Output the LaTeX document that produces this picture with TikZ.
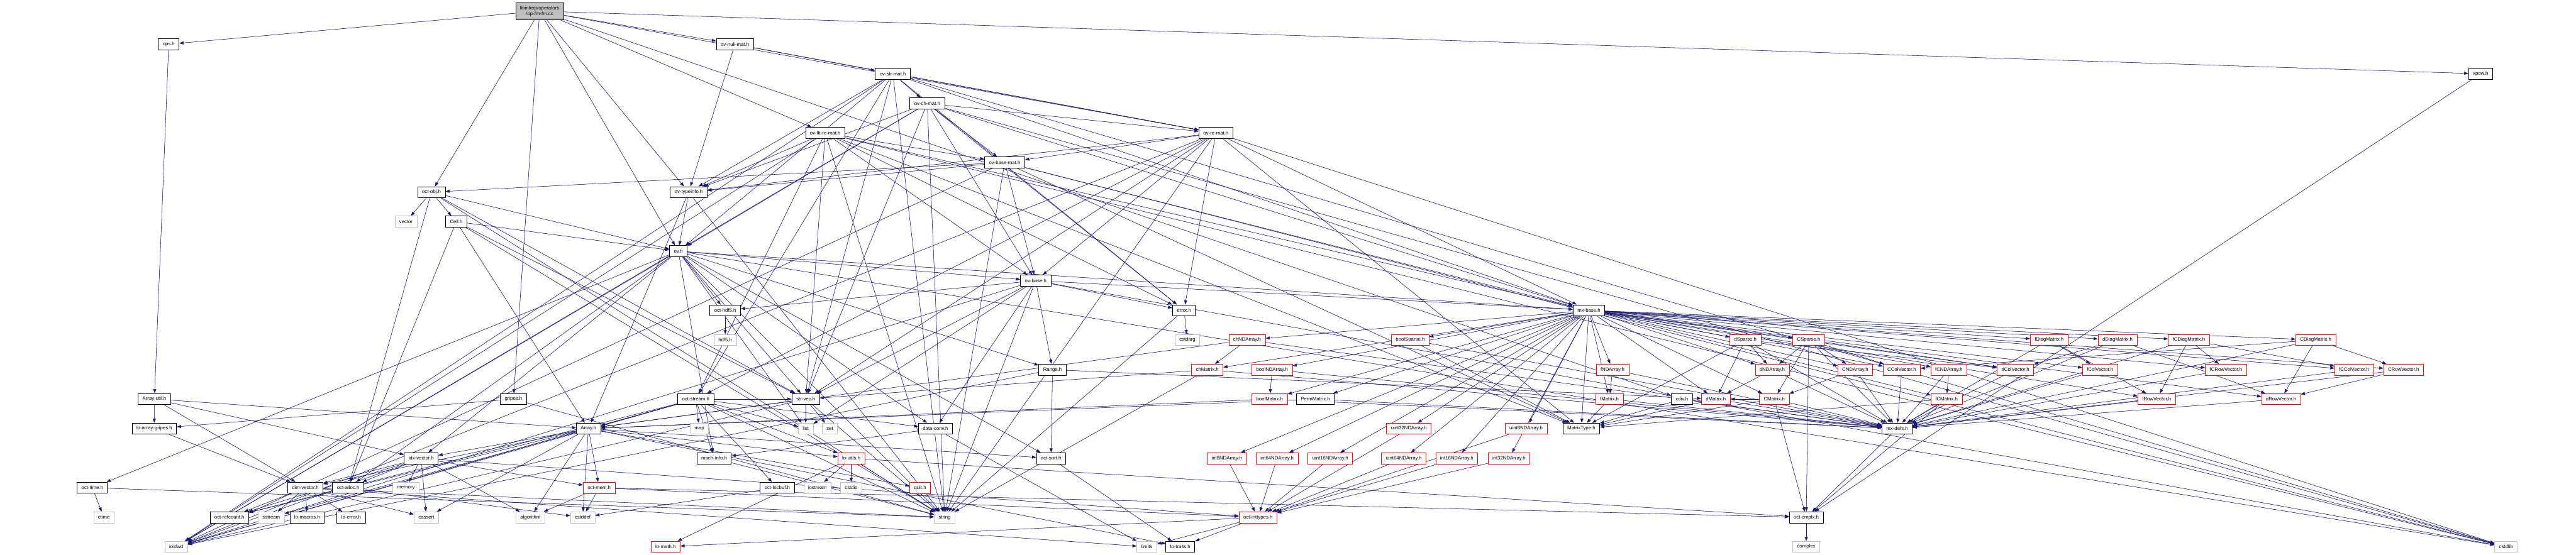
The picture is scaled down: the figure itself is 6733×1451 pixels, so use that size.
\documentclass[tikz,border=0pt]{standalone}
\usepackage{fontspec}
\setmainfont{Liberation Sans}
\usetikzlibrary{arrows.meta, backgrounds}
\definecolor{cedge}{HTML}{191970}
\definecolor{cgrey}{HTML}{BFBFBF}
\tikzset{
  every picture/.style={line width=1pt},
  hfile/.style={draw=#1, fill=white, line width=1.3pt, minimum height=29pt, inner xsep=11.5pt, inner ysep=0pt, font=\fontsize{12.8}{15}\selectfont},
  hfile/.default=black,
  trunc/.style={hfile=red, line width=1.1pt},
  sys/.style={hfile=cgrey, line width=1pt},
  dep/.style={-{Triangle[length=11pt, width=8pt]}, draw=cedge, fill=cedge, line width=0.9pt},
}

\begin{document}
\begin{tikzpicture}[x=1pt, y=-1pt]
  \useasboundingbox (0,0) rectangle (6733,1451);
  \node[hfile, fill=cgrey, align=center, minimum height=45pt] (opfmfm) at (1410.5,29) {libinterp/operators\\/op-fm-fm.cc};
  \foreach \n/\X/\Y/\t in {
     ops/441/115.6/ops.h, ovnullmat/1921/115.6/ov-null-mat.h, xpow/6483.5/193/xpow.h,
     ovstrmat/2333.6/193/ov-str-mat.h, ovchmat/2423.6/270.4/ov-ch-mat.h,
     ovfltremat/2157/348/ov-flt-re-mat.h, ovremat/3178/348/ov-re-mat.h,
     ovbasemat/2626/425/ov-base-mat.h, octobj/1127.6/502.6/oct-obj.h,
     ovtypeinfo/1800/502.6/ov-typeinfo.h, cell/1192.6/579.6/Cell.h, ov/1773/657/ov.h,
     ovbase/2707/734/ov-base.h, error/3094.6/811.6/error.h, octhdf/1895.5/811.6/oct-hdf5.h,
     mxbase/4153/811.6/mx-base.h, range/2751/966.8/Range.h, arrayutil/403.5/1043.7/Array-util.h,
     gripes/1342/1043.7/gripes.h, octstream/1818.5/1043.7/oct-stream.h, strvec/2106/1043.7/str-vec.h,
     permmatrix/3438/1043.7/PermMatrix.h, xdiv/4396/1043.7/xdiv.h,
     loarraygripes/403.3/1121/lo-array-gripes.h, array/1538/1121/Array.h,
     dataconv/2445/1121/data-conv.h, matrixtype/4133/1121/MatrixType.h, mxdefs/4958.6/1121/mx-defs.h,
     idxvector/1100.8/1198.6/idx-vector.h, machinfo/1866.5/1198.6/mach-info.h,
     octsort/2747/1198.6/oct-sort.h, octtime/241.3/1275.6/oct-time.h,
     dimvector/798/1275.6/dim-vector.h, octalloc/910/1275.6/oct-alloc.h,
     octlocbuf/2031.5/1275.6/oct-locbuf.h, octrefcount/599.6/1353/oct-refcount.h,
     lomacros/802.7/1353/lo-macros.h, loerror/918/1353/lo-error.h,
     octcmplx/4721/1353/oct-cmplx.h, lotraits/3085/1430/lo-traits.h}
    \node[hfile] (\n) at (\X,\Y) {\t};
  \foreach \n/\X/\Y/\t in {
     chndarray/3259.6/889/chNDArray.h, boolsparse/3686/889/boolSparse.h, dsparse/4562/889/dSparse.h,
     csparse/4727.6/889/CSparse.h, fdiagmatrix/5355.8/889/fDiagMatrix.h,
     ddiagmatrix/5534.7/889/dDiagMatrix.h, fcdiagmatrix/5721/889/fCDiagMatrix.h,
     cdiagmatrix/6052.8/889/CDiagMatrix.h, chmatrix/3155.6/966.8/chMatrix.h,
     boolndarray/3325/966.8/boolNDArray.h, fndarray/4214.7/966.8/fNDArray.h,
     dndarray/4632/966.8/dNDArray.h, cndarray/4849/966.8/CNDArray.h,
     ccolvector/4970.7/966.8/CColVector.h, fcndarray/5094/966.8/fCNDArray.h,
     dcolvector/5267.8/966.8/dColVector.h, fcolvector/5489/966.8/fColVector.h,
     fcrowvector/5818/966.8/fCRowVector.h, fccolvector/6152.8/966.8/fCColVector.h,
     crowvector/6282/966.8/CRowVector.h, boolmatrix/3318.5/1043.7/boolMatrix.h,
     fmatrix/4206.6/1043.7/fMatrix.h, dmatrix/4484.7/1043.7/dMatrix.h, cmatrix/4637.5/1043.7/CMatrix.h,
     fcmatrix/5087.7/1043.7/fCMatrix.h, frowvector/5637/1043.7/fRowVector.h,
     drowvector/5962/1043.7/dRowVector.h, uint32ndarray/3682.5/1121/uint32NDArray.h,
     uint8ndarray/3988.7/1121/uint8NDArray.h, loutils/2225/1198.6/lo-utils.h,
     int8ndarray/3206.5/1198.6/int8NDArray.h, int64ndarray/3338/1198.6/int64NDArray.h,
     uint16ndarray/3477/1198.6/uint16NDArray.h, uint64ndarray/3669/1198.6/uint64NDArray.h,
     int16ndarray/3807.5/1198.6/int16NDArray.h, int32ndarray/3944/1198.6/int32NDArray.h,
     quit/2405/1275.6/quit.h, octmem/1566/1275.6/oct-mem.h,
     octinttypes/3288/1353/oct-inttypes.h, lomath/1739.6/1430/lo-math.h}
    \node[trunc] (\n) at (\X,\Y) {\t};
  \foreach \n/\X/\Y/\t in {
     vector/1061/579.6/vector, hdf/1895.5/889/hdf5.h, cstdarg/3103.5/889/cstdarg,
     map/1828/1121/map, list/2106/1121/list, set/2169/1121/set, memory/1061/1275.6/memory,
     iostream/2136.6/1275.6/iostream, cstdio/2225/1275.6/cstdio, ctime/271.4/1353/ctime,
     sstream/709/1353/sstream, cassert/1114.4/1353/cassert, algorithm/1386.5/1353/algorithm,
     cstddef/1523/1353/cstddef, string/2469/1353/string, iosfwd/460.7/1430/iosfwd,
     limits/2997.5/1430/limits, complex/4721/1430/complex, cstdlib/6550/1430/cstdlib}
    \node[sys] (\n) at (\X,\Y) {\t};
  \begin{scope}[on background layer]
    \fill[white] (0,0) rectangle (6733,1451);
    \foreach \s/\list in {
       opfmfm/{ops,gripes,octobj,ov,ovremat,ovfltremat,ovtypeinfo,ovnullmat,xdiv,xpow},
       ops/{arrayutil},
       ovnullmat/{ovremat,ovstrmat,ovtypeinfo},
       ovstrmat/{cstdlib,iosfwd,string,mxbase,strvec,error,octstream,ov,ovchmat,ovremat,ovtypeinfo},
       ovchmat/{cstdlib,iosfwd,string,mxbase,strvec,error,ov,ovbase,ovbasemat,ovremat,ovtypeinfo},
       ovfltremat/{cstdlib,iosfwd,string,mxbase,strvec,error,octstream,ovbase,ovbasemat,ovtypeinfo,matrixtype},
       ovremat/{cstdlib,iosfwd,string,mxbase,strvec,error,octstream,ovbase,ovbasemat,ovtypeinfo,matrixtype},
       ovbasemat/{cstdlib,iosfwd,string,mxbase,matrixtype,octobj,ovbase,ovtypeinfo},
       ovtypeinfo/{string,array,ov},
       octobj/{string,vector,octalloc,strvec,cell,ov},
       cell/{string,array,octalloc,strvec,ov},
       ov/{cstdlib,iosfwd,string,list,range,dataconv,idxvector,machinfo,mxbase,octalloc,octhdf,octsort,octtime,strvec,ovbase},
       ovbase/{cstdlib,iosfwd,list,string,range,dataconv,mxbase,strvec,error,octhdf},
       error/{cstdarg,string}, octhdf/{hdf}, range/{iosfwd,dmatrix,octsort},
       dataconv/{limits,machinfo}, octsort/{lotraits},
       mxbase/{boolmatrix,boolndarray,boolsparse,chmatrix,chndarray,dcolvector,drowvector,dmatrix,dndarray,ddiagmatrix,dsparse,ccolvector,crowvector,cmatrix,cndarray,cdiagmatrix,csparse,fcolvector,frowvector,fmatrix,fndarray,fdiagmatrix,fccolvector,fcrowvector,fcmatrix,fcndarray,fcdiagmatrix,permmatrix,int8ndarray,int16ndarray,int32ndarray,int64ndarray,uint8ndarray,uint16ndarray,uint32ndarray,uint64ndarray,matrixtype},
       chndarray/{chmatrix,array,mxdefs}, chmatrix/{string,strvec,mxdefs},
       boolndarray/{boolmatrix,mxdefs}, boolmatrix/{array,mxdefs},
       boolsparse/{matrixtype,mxdefs}, permmatrix/{array,mxdefs},
       dsparse/{dmatrix,dndarray,dcolvector,matrixtype,mxdefs},
       csparse/{dndarray,cndarray,ccolvector,cmatrix,dcolvector,octcmplx,mxdefs},
       xdiv/{matrixtype,mxdefs}, dmatrix/{matrixtype,mxdefs}, fmatrix/{matrixtype,mxdefs},
       fndarray/{fmatrix,mxdefs}, dndarray/{dmatrix,mxdefs},
       cmatrix/{dmatrix,matrixtype,mxdefs,octcmplx}, cndarray/{cmatrix,mxdefs},
       ccolvector/{mxdefs}, fcndarray/{fcmatrix,mxdefs}, fcmatrix/{matrixtype,mxdefs,octcmplx},
       dcolvector/{mxdefs}, fcolvector/{mxdefs},
       fdiagmatrix/{fcolvector,frowvector,mxdefs}, ddiagmatrix/{dcolvector,drowvector,mxdefs},
       fcdiagmatrix/{fccolvector,fcrowvector,frowvector,mxdefs},
       cdiagmatrix/{ccolvector,crowvector,drowvector,mxdefs},
       frowvector/{mxdefs}, drowvector/{mxdefs}, fcrowvector/{mxdefs}, fccolvector/{mxdefs},
       crowvector/{drowvector,mxdefs}, mxdefs/{octcmplx}, octcmplx/{complex}, xpow/{octcmplx},
       int8ndarray/{octinttypes}, int16ndarray/{octinttypes}, int32ndarray/{octinttypes},
       int64ndarray/{octinttypes}, uint8ndarray/{octinttypes}, uint16ndarray/{octinttypes},
       uint32ndarray/{octinttypes}, uint64ndarray/{octinttypes},
       octinttypes/{limits,lotraits,lomath},
       array/{cassert,cstddef,algorithm,iosfwd,dimvector,idxvector,lotraits,loutils,octsort,quit,octmem,octrefcount},
       arrayutil/{array,dimvector,idxvector,loarraygripes}, loarraygripes/{dimvector},
       gripes/{string,loarraygripes},
       idxvector/{cassert,algorithm,iosfwd,memory,dimvector,octinttypes,octalloc,octmem,octrefcount},
       dimvector/{cassert,limits,sstream,string,loerror,lomacros,octrefcount},
       octalloc/{cstddef}, octtime/{ctime,string},
       octmem/{cstddef,algorithm,octcmplx,octinttypes},
       loutils/{cstdio,iostream,string,octcmplx,lomath}, octlocbuf/{cstddef}, machinfo/{string},
       octstream/{iosfwd,sstream,string,map,list,array,dataconv,loutils,machinfo,octlocbuf,octrefcount,strvec},
       strvec/{iosfwd,list,set,string,array}}
      \foreach \t in \list \draw[dep] (\s) -- (\t);
  \end{scope}
\end{tikzpicture}
\end{document}
